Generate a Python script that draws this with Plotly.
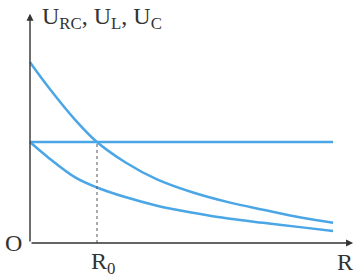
import plotly.graph_objects as go

# Data (R in arbitrary units, U in units of U_L)
R = [0, 0.59, 1.49, 2.21, 3.14, 4.19, 5.38, 6.6, 7.69, 8.98, 10]
U_RC = [1.79, 1.55, 1.22, 1.0, 0.80, 0.63, 0.50, 0.40, 0.33, 0.25, 0.20]
U_C = [1.0, 0.85, 0.65, 0.55, 0.455, 0.37, 0.30, 0.24, 0.20, 0.155, 0.12]
R_L = [0, 10]
U_L = [1.0, 1.0]
R0 = 2.21
R_MAX_AXIS = 10.66
U_MAX_AXIS = 2.27

blue = "#4ba6e6"
fig = go.Figure()
fig.add_trace(go.Scatter(x=R, y=U_RC, mode="lines", line=dict(color=blue, width=2.5, shape="spline", smoothing=1.0)))
fig.add_trace(go.Scatter(x=R, y=U_C, mode="lines", line=dict(color=blue, width=2.5, shape="spline", smoothing=1.0)))
fig.add_trace(go.Scatter(x=R_L, y=U_L, mode="lines", line=dict(color=blue, width=2.5)))
fig.add_trace(go.Scatter(x=[R0, R0], y=[0, 1.0], mode="lines",
                         line=dict(color="#555555", width=1, dash="3px,3px")))

axis_col = "#333333"
anns = [
    dict(x=0, y=U_MAX_AXIS, ax=0, ay=0, xref="x", yref="y", axref="x", ayref="y",
         showarrow=True, arrowhead=2, arrowsize=1, arrowwidth=1.4, arrowcolor=axis_col, text=""),
    dict(x=R_MAX_AXIS, y=0, ax=0, ay=0, xref="x", yref="y", axref="x", ayref="y",
         showarrow=True, arrowhead=2, arrowsize=1, arrowwidth=1.4, arrowcolor=axis_col, text=""),
]
font = dict(family="Liberation Serif", size=24, color="#333333")
anns.append(dict(x=0.33, y=2.23, xref="x", yref="y", xanchor="left", yanchor="middle", showarrow=False,
                 text="U<sub>RC</sub>, U<sub>L</sub>, U<sub>C</sub>", font=font))
anns.append(dict(x=-0.56, y=0, xref="x", yref="y", xanchor="center", yanchor="middle", showarrow=False,
                 text="O", font=font))
anns.append(dict(x=2.41, y=-0.2, xref="x", yref="y", xanchor="center", yanchor="middle", showarrow=False,
                 text="R<sub>0</sub>", font=font))
anns.append(dict(x=10.4, y=-0.19, xref="x", yref="y", xanchor="center", yanchor="middle", showarrow=False,
                 text="R", font=font))

fig.update_layout(
    width=364, height=280, margin=dict(l=0, r=0, t=0, b=0),
    paper_bgcolor="white", plot_bgcolor="white", showlegend=False,
    xaxis=dict(range=[-0.99, 11.02], visible=False, fixedrange=True),
    yaxis=dict(range=[-0.366, 2.406], visible=False, fixedrange=True),
    annotations=anns,
)
fig.write_html("out.html")
